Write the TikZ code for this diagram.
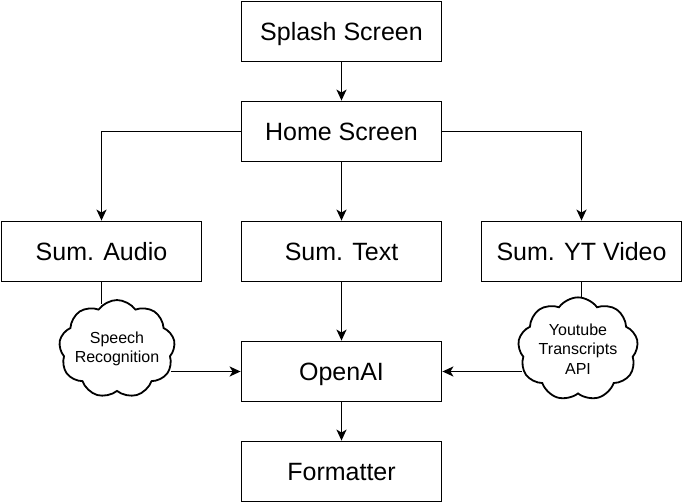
\documentclass[tikz,border=0pt]{standalone}
\usepackage{fontspec}
\setmainfont{Liberation Sans}
\usetikzlibrary{shapes.symbols,arrows.meta}

\begin{document}
\begin{tikzpicture}[x=1pt,y=-1pt,
		screen/.style={draw,line width=1.8pt,minimum width=200pt,minimum height=60pt,inner sep=0pt,text height=18pt,text depth=0pt,font=\fontsize{25}{30}\selectfont},
		service/.style={cloud,cloud puffs=9,cloud puff arc=110,aspect=1.25,draw,line width=1.8pt,minimum width=116pt,minimum height=94pt,inner sep=0pt,align=center,font=\fontsize{16}{19.5}\selectfont},
		link/.style={line width=1.8pt},
		flow/.style={link,-{Stealth[length=11pt,width=10pt,inset=3pt]}}]
		\useasboundingbox (0,0) rectangle (682,502);
		\node[screen] (splash) at (341.5,31.5) {Splash Screen};
		\node[screen] (home) at (341.5,131.5) {Home Screen};
		\node[screen] (audio) at (101.5,251.5) {Sum. Audio};
		\node[screen] (text) at (341.5,251.5) {Sum. Text};
		\node[screen] (video) at (581.5,251.5) {Sum. YT Video};
		\node[screen] (openai) at (341.5,371.5) {OpenAI};
		\node[screen] (formatter) at (341.5,471.5) {Formatter};
		\node[service,inner sep=-5pt] (speech) at (117,349) {Speech\\Recognition};
		\node[service] (transcripts) at (578,349) {Youtube\\Transcripts\\API};
		\draw[flow] (splash) -- (home);
		\draw[flow] (home.west) -| (audio.north);
		\draw[flow] (home) -- (text);
		\draw[flow] (home.east) -| (video.north);
		\draw[flow] (text) -- (openai);
		\draw[flow] (openai) -- (formatter);
		\draw[link] (audio.south) -- (audio.south |- speech.108);
		\draw[link] (video.south) -- (video.south |- transcripts.85);
		\draw[flow] (openai.west -| speech.-20) -- (openai.west);
		\draw[flow] (openai.east -| transcripts.200) -- (openai.east);
	\end{tikzpicture}
\end{document}
